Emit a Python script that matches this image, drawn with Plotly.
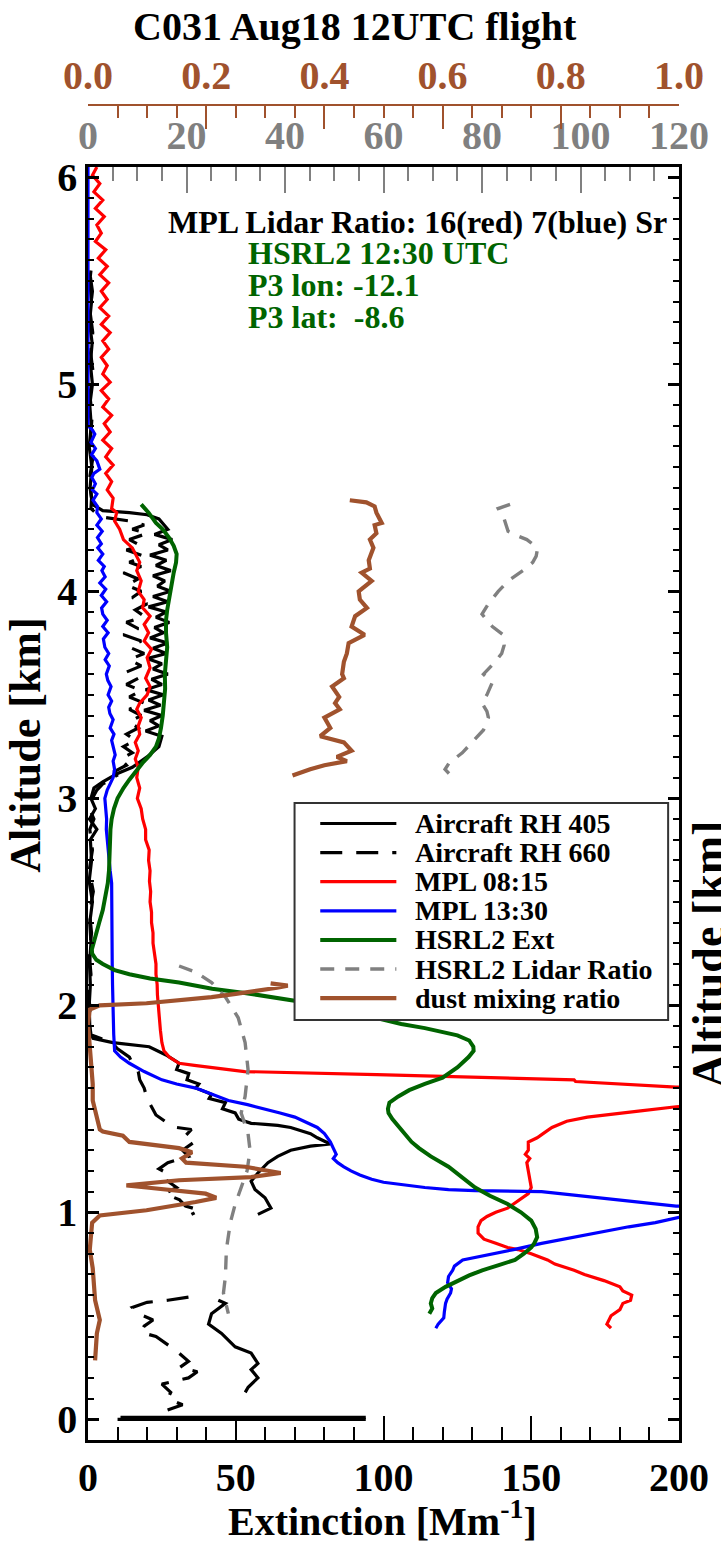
import plotly.graph_objects as go

# ------------------------------------------------------------------ data
# Aircraft RH 405 (solid black) : altitude [km], extinction [Mm-1]
rh405_alt = [5.55, 5.50, 5.40, 5.30, 5.20, 5.10, 5.00, 4.90, 4.80, 4.70, 4.60, 4.50, 4.42,
             4.39, 4.38, 4.37, 4.35, 4.32,
             4.300, 4.275, 4.250, 4.225, 4.200, 4.175, 4.150, 4.125, 4.100, 4.075, 4.050, 4.025,
             4.000, 3.975, 3.950, 3.925, 3.900, 3.875, 3.850, 3.825, 3.800, 3.775, 3.750, 3.725,
             3.700, 3.675, 3.650, 3.625, 3.600, 3.575, 3.550, 3.525, 3.500, 3.475, 3.450, 3.425,
             3.400, 3.375, 3.350, 3.325, 3.300,
             3.25, 3.20, 3.15, 3.12, 3.08, 3.05, 3.00,
             2.95, 2.90, 2.85, 2.80, 2.70, 2.60, 2.50, 2.40, 2.30, 2.20, 2.10, 2.00, 1.90, 1.86,
             1.84, 1.82, 1.80, 1.76, 1.72, 1.69, 1.67, 1.64, 1.62, 1.60, 1.57, 1.55, 1.53, 1.50,
             1.48, 1.45, 1.43, 1.425, 1.42, 1.41, 1.40, 1.38, 1.36, 1.345, 1.33, 1.32, 1.30, 1.27,
             1.24, 1.19, 1.15, 1.11, 1.07, 1.02, 0.99,
             None,
             0.575, 0.56, 0.51, 0.46, 0.415, 0.35, 0.32, 0.27, 0.24, 0.20, 0.155, 0.13,
             None,
             0.0, 0.0,
             None,
             0.009, 0.009]
rh405_ext = [1.0, 0.6, 1.2, 0.5, 1.4, 0.8, 1.5, 0.6, 1.1, 0.4, 1.3, 0.7, 1.5,
             5.0, 14.0, 20.0, 24.0, 26.0,
             27, 22.5, 28.5, 24, 27, 21, 26.5, 23, 28, 22, 26, 23.5,
             28, 22, 27, 20.5, 26.5, 23, 27.5, 22.5, 25.5, 21, 27, 22,
             26.5, 20, 25, 22, 27, 21.5, 25, 19.5, 25.5, 20.5, 24.5, 19,
             25, 21, 24, 19.5, 25,
             24, 20, 15, 10, 5, 2, 1,
             2.5, 0.5, 3.0, 0.8, 1.2, 0.4, 1.5, 0.6, 1.0, 0.5, 0.8, 0.4, 0.6, 1.0,
             1.7, 8.4, 20.7, 26.4, 30.8, 30.0, 34.1, 33.5, 37.5, 36.5, 41.8, 41.0, 46.5, 45.5,
             49.8, 51.0, 55.2, 60.0, 64.2, 68.6, 70.9, 75.3, 77.6, 80.0, 82.0, 75.3, 68.6, 64.2,
             60.9, 57.5, 55.2, 56.5, 59.9, 61.9, 57.5,
             None,
             44.1, 46.5, 41.8, 40.8, 45.2, 49.8, 55.2, 57.5, 55.2, 57.5, 54.2, 53.2,
             None,
             10.0, 94.0,
             None,
             11.0, 94.0]

# Aircraft RH 660 (dashed black)
rh660_alt = [5.52, 5.45, 5.35, 5.25, 5.15, 5.05, 4.95, 4.85, 4.75, 4.65, 4.55, 4.45, 4.40,
             4.36, 4.34, 4.32, 4.30, 4.28, 4.25, 4.22, 4.20, 4.17, 4.14, 4.12, 4.09, 4.06, 4.03,
             4.00, 3.97, 3.94, 3.91, 3.88, 3.85, 3.82, 3.79, 3.76, 3.73, 3.70, 3.67, 3.64, 3.61,
             3.58, 3.55, 3.52, 3.49, 3.46, 3.43, 3.40, 3.37, 3.34, 3.31, 3.28, 3.25, 3.22, 3.19,
             3.16, 3.13, 3.10, 3.07, 3.04, 3.00,
             2.95, 2.90, 2.85, 2.75, 2.65, 2.55, 2.45, 2.35, 2.25, 2.15, 2.05, 1.95, 1.86,
             1.82, 1.79, 1.75, 1.72, 1.68, 1.64, 1.60, 1.55, 1.51, 1.47, 1.44, 1.41, 1.40, 1.37,
             1.34, 1.30, 1.27, 1.24, 1.21, 1.18, 1.15, 1.12, 1.09, 1.06, 1.03, 1.01, 0.99,
             None,
             0.59, 0.575, 0.565, 0.54, 0.51, 0.48, 0.45, 0.42, 0.40, 0.37, 0.33, 0.28, 0.25,
             0.23, 0.20, 0.17, 0.13, 0.10, 0.07, 0.04, 0.02]
rh660_ext = [0.8, 1.5, 0.7, 1.6, 0.9, 1.8, 0.6, 1.4, 0.9, 1.7, 0.6, 1.2, 1.0,
             4, 14, 19, 15, 20, 14, 18, 13, 19, 14, 18, 12, 17, 13,
             18, 15, 20, 16, 19, 13, 17, 12, 18, 14, 19, 14, 18, 13,
             17, 13, 18, 14, 19, 14, 18, 14, 17, 13, 16, 12, 15, 11,
             13, 9, 10, 5, 3, 1.5,
             0.5, 2.0, 0.6, 1.5, 0.4, 1.8, 0.5, 1.2, 0.4, 1.0, 0.3, 0.8, 0.5,
             8, 10, 14, 15, 17, 17.5, 19, 20, 21.5, 23, 26, 30, 35, 33,
             36, 32, 34, 27, 24, 28, 27, 30, 26, 31, 33, 38, 35,
             None,
             34, 27, 20, 15, 17, 22, 19, 18, 23, 26, 30, 34, 31,
             37, 34, 25, 28, 27, 32, 26, 23]

# MPL 08:15 (red)
mpl0815_alt = [6.05, 6.01, 5.97, 5.93, 5.89, 5.85, 5.81, 5.77, 5.73, 5.69, 5.65, 5.61, 5.57,
               5.53, 5.49, 5.45, 5.41, 5.37, 5.33, 5.29, 5.25, 5.21, 5.17, 5.13, 5.09, 5.05,
               5.01, 4.97, 4.93, 4.89, 4.85, 4.81, 4.77, 4.73, 4.69, 4.65, 4.61, 4.57, 4.53,
               4.49, 4.45,
               4.40, 4.38, 4.34, 4.30, 4.25, 4.21, 4.18, 4.14, 4.10, 4.05, 4.00, 3.96, 3.92,
               3.88, 3.84, 3.80, 3.76, 3.72, 3.68, 3.63, 3.58, 3.54, 3.50, 3.46, 3.43, 3.39,
               3.35, 3.31, 3.27, 3.23, 3.19, 3.15, 3.10, 3.05, 3.00,
               2.95, 2.90, 2.85, 2.80, 2.75, 2.70, 2.65, 2.60, 2.55, 2.50, 2.45, 2.40, 2.35,
               2.30, 2.25, 2.20, 2.15, 2.10, 2.05, 2.00, 1.94, 1.88, 1.82, 1.78, 1.75, 1.72,
               1.71, 1.70, 1.69, 1.68, 1.665, 1.645, 1.64, 1.632, 1.62, 1.605, 1.59, 1.56,
               1.525, 1.51, 1.49, 1.46, 1.44, 1.41, 1.38, 1.36, 1.34, 1.30, 1.28, 1.26, 1.24,
               1.20, 1.16, 1.12, 1.09, 1.07, 1.05, 1.02, 1.00, 0.98, 0.96, 0.93, 0.90, 0.87,
               0.85, 0.83, 0.82, 0.80, 0.77, 0.75, 0.72, 0.70, 0.67, 0.65, 0.64, 0.62, 0.60,
               0.575, 0.56, 0.53, 0.50, 0.46, 0.44]
mpl0815_ext = [3, 1.5, 4, 2, 5, 2.5, 5.5, 3, 4.5, 2.5, 6, 3.5, 6.5,
               4, 7, 4.5, 6.5, 4, 7, 4.5, 7.5, 5, 7, 4.5, 6.5, 5,
               7.5, 4.5, 7, 5, 8, 5.5, 7.5, 5, 8, 6, 8.5, 6, 8,
               6.5, 8.5,
               8, 9.7, 9, 10.7, 12, 15, 16, 17.5, 16.5, 18, 17, 19, 18.5,
               21, 19, 20.5, 19, 21.5, 20, 21, 19.5, 21, 20, 17.5, 16.5, 18,
               17, 17.5, 16, 17, 16, 17, 16.5, 17.5, 16.7,
               18, 18.5, 19.5, 19.5, 20.7, 20.5, 21, 20.8, 21.2, 21, 21.5, 21.5, 22,
               22, 22.5, 23, 23, 23.4, 23.5, 23.8, 24, 24.5, 25, 25.7, 27.5, 30.8,
               36, 42, 48, 53, 97.7, 150, 164.5, 165, 180, 199, 230, 260,
               215, 199, 187, 169, 162, 157, 154, 152, 149, 149, 148, 149.5, 148.5,
               149, 149.5, 150, 149, 147, 145, 142, 138, 135, 133, 132, 132, 134,
               138, 142, 145.5, 150, 155.5, 158, 164.5, 168, 174.6, 178, 180, 181, 184,
               183.6, 181, 180, 177, 175.6, 177]

# MPL 13:30 (blue)
mpl1330_alt = [6.05, 4.80,
               4.78, 4.76, 4.72, 4.69, 4.66, 4.63, 4.59, 4.57, 4.55, 4.52, 4.49, 4.47, 4.44,
               4.41, 4.38, 4.35, 4.32, 4.29, 4.26, 4.23, 4.21, 4.18, 4.15, 4.12, 4.10, 4.07,
               4.04, 4.01, 3.98, 3.95, 3.92, 3.89, 3.86, 3.83, 3.80, 3.77, 3.73, 3.70, 3.67,
               3.64, 3.60, 3.57, 3.54, 3.50, 3.47, 3.44, 3.41, 3.38, 3.34, 3.31, 3.28, 3.25,
               3.21, 3.18, 3.14, 3.10, 3.07, 3.04, 3.00,
               2.95, 2.90, 2.85, 2.80, 2.75, 2.70, 2.65, 2.59, 2.50, 2.40, 2.30, 2.20, 2.10,
               2.00, 1.94, 1.86, 1.78, 1.75, 1.72, 1.68, 1.64, 1.62, 1.60, 1.57, 1.54, 1.52,
               1.50, 1.48, 1.46, 1.43, 1.41, 1.38, 1.34, 1.31, 1.28, 1.26, 1.24, 1.22, 1.20,
               1.18, 1.16, 1.145, 1.13, 1.12, 1.11, 1.105, 1.10, 1.09, 1.08, 1.075, 1.06,
               1.045, 1.03, 1.015, 0.995, 0.976, 0.95, 0.93, 0.91, 0.88, 0.85, 0.82, 0.80,
               0.78, 0.77, 0.74, 0.72, 0.69, 0.66, 0.63, 0.61, 0.58, 0.56, 0.52, 0.49, 0.46,
               0.44]
mpl1330_ext = [0.0, 0.0,
               1.5, 2.3, 1.0, 2.5, 1.2, 3.0, 4.0, 2.0, 1.3, 2.5, 1.5, 3.0, 1.7,
               3.2, 3.0, 4.5, 3.0, 4.8, 3.2, 4.5, 3.3, 5.0, 3.5, 5.5, 4.7, 5.8,
               4.0, 6.0, 4.5, 6.3, 4.6, 5.0, 6.5, 5.0, 6.8, 5.2, 5.7, 7.0, 5.8,
               7.2, 6.2, 6.7, 7.8, 6.8, 8.0, 7.0, 7.4, 8.5, 7.5, 8.8, 8.0, 8.4,
               9.2, 8.5, 9.0, 8.5, 7.4, 6.5, 5.7,
               6.0, 6.3, 6.2, 6.5, 6.7, 7.0, 7.5, 8.0, 8.0, 8.1, 8.0, 8.2, 8.3,
               8.4, 8.4, 8.7, 9.0, 11, 14, 19, 25, 30, 36.5, 42, 47.5, 54,
               60, 65, 70, 74.5, 77.6, 80, 82, 83, 84, 83, 84.5, 86.6, 89,
               92, 96, 100, 108, 114, 122, 131, 153.5, 160, 168, 172, 180,
               190, 199, 225, 225, 200, 192, 183, 175.6, 164, 153.5, 144, 136.8,
               130, 126.8, 124, 123.4, 122, 121.7, 123, 122.7, 121.5, 121, 120.6, 120.4, 118.5,
               117.7]

# HSRL2 Ext (green)
hsrl_alt = [4.42, 4.38, 4.33, 4.30, 4.26, 4.22, 4.18, 4.14, 4.09, 4.03, 3.97, 3.91, 3.86,
            3.80, 3.73, 3.66, 3.60, 3.53, 3.47, 3.40, 3.34, 3.29, 3.25, 3.21, 3.17, 3.13,
            3.09, 3.05, 3.00, 2.95, 2.90, 2.85, 2.80, 2.75, 2.70, 2.65, 2.59, 2.53, 2.46,
            2.40, 2.35, 2.30, 2.27, 2.25, 2.22, 2.20, 2.17, 2.15, 2.13, 2.11, 2.08, 2.06,
            2.035, 2.01, 1.975, 1.94, 1.91, 1.89, 1.87, 1.855, 1.83, 1.80, 1.78, 1.75, 1.70,
            1.65, 1.62, 1.59, 1.56, 1.53, 1.50, 1.48, 1.45, 1.41, 1.38, 1.34, 1.31, 1.27,
            1.22, 1.17, 1.12, 1.08, 1.04, 1.00, 0.96, 0.92, 0.88, 0.85, 0.83, 0.80, 0.77,
            0.745, 0.72, 0.695, 0.67, 0.64, 0.61, 0.585, 0.56, 0.535, 0.51]
hsrl_ext = [18, 20.5, 23, 25.3, 27.4, 29, 30, 29.8, 29, 28.2, 27.4, 26.8, 26.4,
            26.4, 26.8, 26.3, 26, 26.1, 25.8, 25.3, 24.7, 24, 23, 21, 18.4, 16,
            14, 12, 10, 8.8, 8, 7.6, 7.5, 7.4, 7.3, 7.1, 6.7, 6, 5,
            3.8, 2.8, 1.7, 1.3, 1.4, 2.8, 5, 9, 14, 21, 30.8, 42, 53,
            64, 75.3, 87, 97.7, 106, 114, 120, 125, 129, 130.4, 130.5, 128.8, 125,
            120, 114, 108.7, 105, 102, 101.5, 101.7, 103, 105.4, 107, 109.5, 112, 116,
            122, 126.5, 131, 136, 142, 146.5, 150, 151.5, 152, 151, 150, 147.5, 144.5,
            139, 133.4, 129, 125.4, 121, 117.7, 116.5, 116, 116.5, 115.5]

# HSRL2 Lidar Ratio (grey dashed, top grey axis 0-120 sr)
lr_alt = [4.42, 4.40, 4.35, 4.29, 4.27, 4.25, 4.21, 4.17, 4.14, 4.10, 4.05, 4.00, 3.94,
          3.89, 3.86, 3.83, 3.79, 3.74, 3.70, 3.66, 3.60, 3.56, 3.50, 3.46, 3.42, 3.39,
          3.33, 3.27, 3.22, 3.17, 3.14, 3.12,
          None,
          2.19, 2.16, 2.11, 2.04, 1.94, 1.82, 1.69, 1.56, 1.48, 1.38, 1.30, 1.20, 1.12,
          1.04, 0.95, 0.82, 0.69, 0.61, 0.51]
lr_val = [85.7, 83.3, 84.5, 85.3, 87, 89.1, 91.3, 91, 90.3, 88.3, 85.3, 83.3, 81.3,
          80, 81, 82.1, 84.3, 84.5, 84, 82.7, 80.3, 82.1, 81, 80, 81, 81.3,
          80.3, 78, 76, 73.3, 72.5, 73.3,
          None,
          18.5, 21.9, 25.1, 27.9, 30.5, 31.9, 32.5, 31.9, 31.1, 32.5, 32.9, 32.3, 31.1,
          29.9, 28.9, 28.1, 27.9, 27.5, 28.5]

# dust mixing ratio (brown, top brown axis 0-1)
dust_alt = [4.44, 4.43, 4.41, 4.38, 4.33, 4.32, 4.28, 4.25, 4.21, 4.15, 4.11, 4.09, 4.05,
            4.00, 3.96, 3.92, 3.88, 3.83, 3.79, 3.75, 3.70, 3.66, 3.60, 3.58, 3.54, 3.49,
            3.46, 3.43, 3.39, 3.34, 3.30, 3.27, 3.23, 3.20, 3.18, 3.16, 3.14, 3.11,
            None,
            2.106, 2.095, 2.085, 2.07, 2.055, 2.04, 2.02, 2.01, 2.00, 1.98, 1.91, 1.78,
            1.62, 1.54, 1.46, 1.40, 1.39, 1.37, 1.34, 1.31, 1.29, 1.26, 1.24, 1.22, 1.19,
            1.17, 1.155, 1.13, 1.12, 1.09, 1.07, 1.05, 1.01, 0.985, 0.95, 0.82, 0.73, 0.575,
            0.48, 0.415, 0.285]
dust_val = [0.443, 0.471, 0.485, 0.488, 0.497, 0.485, 0.488, 0.477, 0.483, 0.475, 0.477,
            0.463, 0.48, 0.458, 0.46, 0.472, 0.452, 0.446, 0.468, 0.441, 0.438, 0.433,
            0.43, 0.433, 0.413, 0.425, 0.418, 0.426, 0.40, 0.41, 0.393, 0.433, 0.446,
            0.421, 0.438, 0.40, 0.376, 0.346,
            None,
            0.309, 0.338, 0.32, 0.29, 0.25, 0.209, 0.14, 0.099, 0.02, 0.003, 0.0, 0.003,
            0.008, 0.008, 0.015, 0.02, 0.025, 0.059, 0.07, 0.154, 0.176, 0.159, 0.166,
            0.266, 0.326, 0.276, 0.154, 0.065, 0.099, 0.199, 0.217, 0.182, 0.099, 0.02,
            0.007, 0.003, 0.008, 0.012, 0.02, 0.015, 0.012]

# axis ticks / labels
ext_ticks = [0, 50, 100, 150, 200]
alt_ticks = [0, 1, 2, 3, 4, 5, 6]
lr_ticks = [0, 20, 40, 60, 80, 100, 120]
dust_ticks = [0.0, 0.2, 0.4, 0.6, 0.8, 1.0]
dust_ticktext = ["0.0", "0.2", "0.4", "0.6", "0.8", "1.0"]

legend_names = ["Aircraft RH 405", "Aircraft RH 660", "MPL 08:15", "MPL 13:30",
                "HSRL2 Ext", "HSRL2 Lidar Ratio", "dust mixing ratio"]

# ------------------------------------------------------------------ style
FONT = "Liberation Serif"
BLACK = "#000000"
RED = "#ff0000"
BLUE = "#0000ff"
GREEN = "#006400"
GRAY = "#808080"
BROWN = "#a0522d"

W, H = 721, 1545
ML, MR, MT, MB = 88, 35, 100, 105
PW, PH = W - ML - MR, H - MT - MB


def px(xp):
    return (xp - ML) / PW


def py(yp):
    return (H - MB - yp) / PH


Y_TOP = py(167)

styles = [
    (BLACK, 3.2, "solid"),
    (BLACK, 3.2, "22px,14px"),
    (RED, 3.2, "solid"),
    (BLUE, 3.2, "solid"),
    (GREEN, 4.0, "solid"),
    (GRAY, 3.4, "14px,11px"),
    (BROWN, 4.2, "solid"),
]

fig = go.Figure()
series = [
    (rh405_ext, rh405_alt, "x"),
    (rh660_ext, rh660_alt, "x"),
    (mpl0815_ext, mpl0815_alt, "x"),
    (mpl1330_ext, mpl1330_alt, "x"),
    (hsrl_ext, hsrl_alt, "x"),
    (lr_val, lr_alt, "x2"),
    (dust_val, dust_alt, "x3"),
]
for (xv, yv, ax), name, (c, w, d) in zip(series, legend_names, styles):
    fig.add_trace(go.Scatter(x=xv, y=yv, mode="lines", name=name, xaxis=ax, yaxis="y",
                             line=dict(color=c, width=w, dash=d), connectgaps=False,
                             showlegend=False, hoverinfo="skip"))

tickfont = dict(family=FONT, size=40, color="black", weight="bold")

fig.update_layout(
    width=W, height=H,
    margin=dict(l=ML, r=MR, t=MT, b=MB, pad=0),
    paper_bgcolor="white", plot_bgcolor="white",
    showlegend=False,
    font=dict(family=FONT, size=30, color="black", weight="bold"),
    xaxis=dict(range=[0, 200], domain=[0, 1], anchor="y", tickvals=ext_ticks,
               ticks="inside", ticklen=24, tickwidth=2, tickcolor="black",
               showline=True, linecolor="black", linewidth=2.5, mirror=True,
               showgrid=False, zeroline=False, tickfont=tickfont,
               minor=dict(dtick=10, tick0=0, ticks="inside", ticklen=13, tickwidth=2,
                          tickcolor="black", showgrid=False)),
    yaxis=dict(range=[-0.10, 6.05], domain=[0, Y_TOP], anchor="x", tickvals=alt_ticks,
               ticks="inside", ticklen=11, tickwidth=2.5, tickcolor="black",
               showline=True, linecolor="black", linewidth=2.5, mirror="ticks",
               showgrid=False, zeroline=False, tickfont=tickfont,
               minor=dict(dtick=0.1, tick0=0, ticks="inside", ticklen=6, tickwidth=2,
                          tickcolor="black", showgrid=False)),
    xaxis2=dict(range=[0, 120], overlaying="x", side="top", anchor="y", tickvals=lr_ticks,
                ticks="inside", ticklen=26, tickwidth=1.5, tickcolor=GRAY,
                showline=False, showgrid=False, zeroline=False,
                tickfont=dict(family=FONT, size=40, color=GRAY, weight="bold"),
                ticklabelstandoff=9,
                minor=dict(dtick=5, tick0=0, ticks="inside", ticklen=14, tickwidth=1.5,
                           tickcolor=GRAY, showgrid=False)),
    xaxis3=dict(range=[0, 1], overlaying="x", side="top", anchor="free", position=py(105),
                tickvals=dust_ticks, ticktext=dust_ticktext,
                ticks="inside", ticklen=23, tickwidth=1.5, tickcolor=BROWN,
                showline=True, linecolor=BROWN, linewidth=1.5,
                showgrid=False, zeroline=False,
                tickfont=dict(family=FONT, size=40, color=BROWN, weight="bold"),
                ticklabelstandoff=-1,
                minor=dict(dtick=0.05, tick0=0, ticks="inside", ticklen=12, tickwidth=1.5,
                           tickcolor=BROWN, showgrid=False)),
)

ann = []
# title and axis titles
ann.append(dict(text="C031 Aug18 12UTC flight", x=px(358), y=py(27), xref="paper", yref="paper",
                showarrow=False, xanchor="center", yanchor="middle",
                font=dict(family=FONT, size=40, color="black", weight="bold")))
ann.append(dict(text="Extinction [Mm<sup>-1</sup>]", x=px(386), y=py(1518), xref="paper",
                yref="paper", showarrow=False, xanchor="center", yanchor="middle",
                font=dict(family=FONT, size=40, color="black", weight="bold")))
ann.append(dict(text="Altitude [km]", x=px(24), y=py(745), xref="paper", yref="paper",
                textangle=-90, showarrow=False, xanchor="center", yanchor="middle",
                font=dict(family=FONT, size=44, color="black", weight="bold")))
ann.append(dict(text="Altitude [km]", x=px(715), y=py(954), xref="paper", yref="paper",
                textangle=-90, showarrow=False, xanchor="center", yanchor="middle",
                font=dict(family=FONT, size=46, color="black", weight="bold")))
# in-plot notes
ann.append(dict(text="MPL Lidar Ratio: 16(red) 7(blue) Sr", x=px(676), y=py(222),
                xref="paper", yref="paper", showarrow=False, xanchor="right", yanchor="middle",
                font=dict(family=FONT, size=32, color="black", weight="bold")))
for txt, yy in [("HSRL2 12:30 UTC", 253), ("P3 lon: -12.1", 285),
                ("P3 lat:\u00a0 -8.6", 317)]:
    ann.append(dict(text=txt, x=px(248), y=py(yy), xref="paper", yref="paper",
                    showarrow=False, xanchor="left", yanchor="middle",
                    font=dict(family=FONT, size=32, color=GREEN, weight="bold")))

# custom legend (box, key lines, labels)
shapes = [dict(type="rect", xref="paper", yref="paper", x0=px(297), x1=px(675),
               y0=py(1020), y1=py(803), line=dict(color="#333333", width=2),
               fillcolor="white", layer="above")]
row0, drow = 823.5, 29.1
for i, (name, (c, w, d)) in enumerate(zip(legend_names, styles)):
    yy = row0 + i * drow
    shapes.append(dict(type="line", xref="paper", yref="paper", x0=px(323), x1=px(400),
                       y0=py(yy), y1=py(yy), line=dict(color=c, width=w, dash=d),
                       layer="above"))
    ann.append(dict(text=name, x=px(417), y=py(yy), xref="paper", yref="paper",
                    showarrow=False, xanchor="left", yanchor="middle",
                    font=dict(family=FONT, size=28, color="black", weight="bold")))

fig.update_layout(annotations=ann, shapes=shapes)
fig.write_html("out.html")
